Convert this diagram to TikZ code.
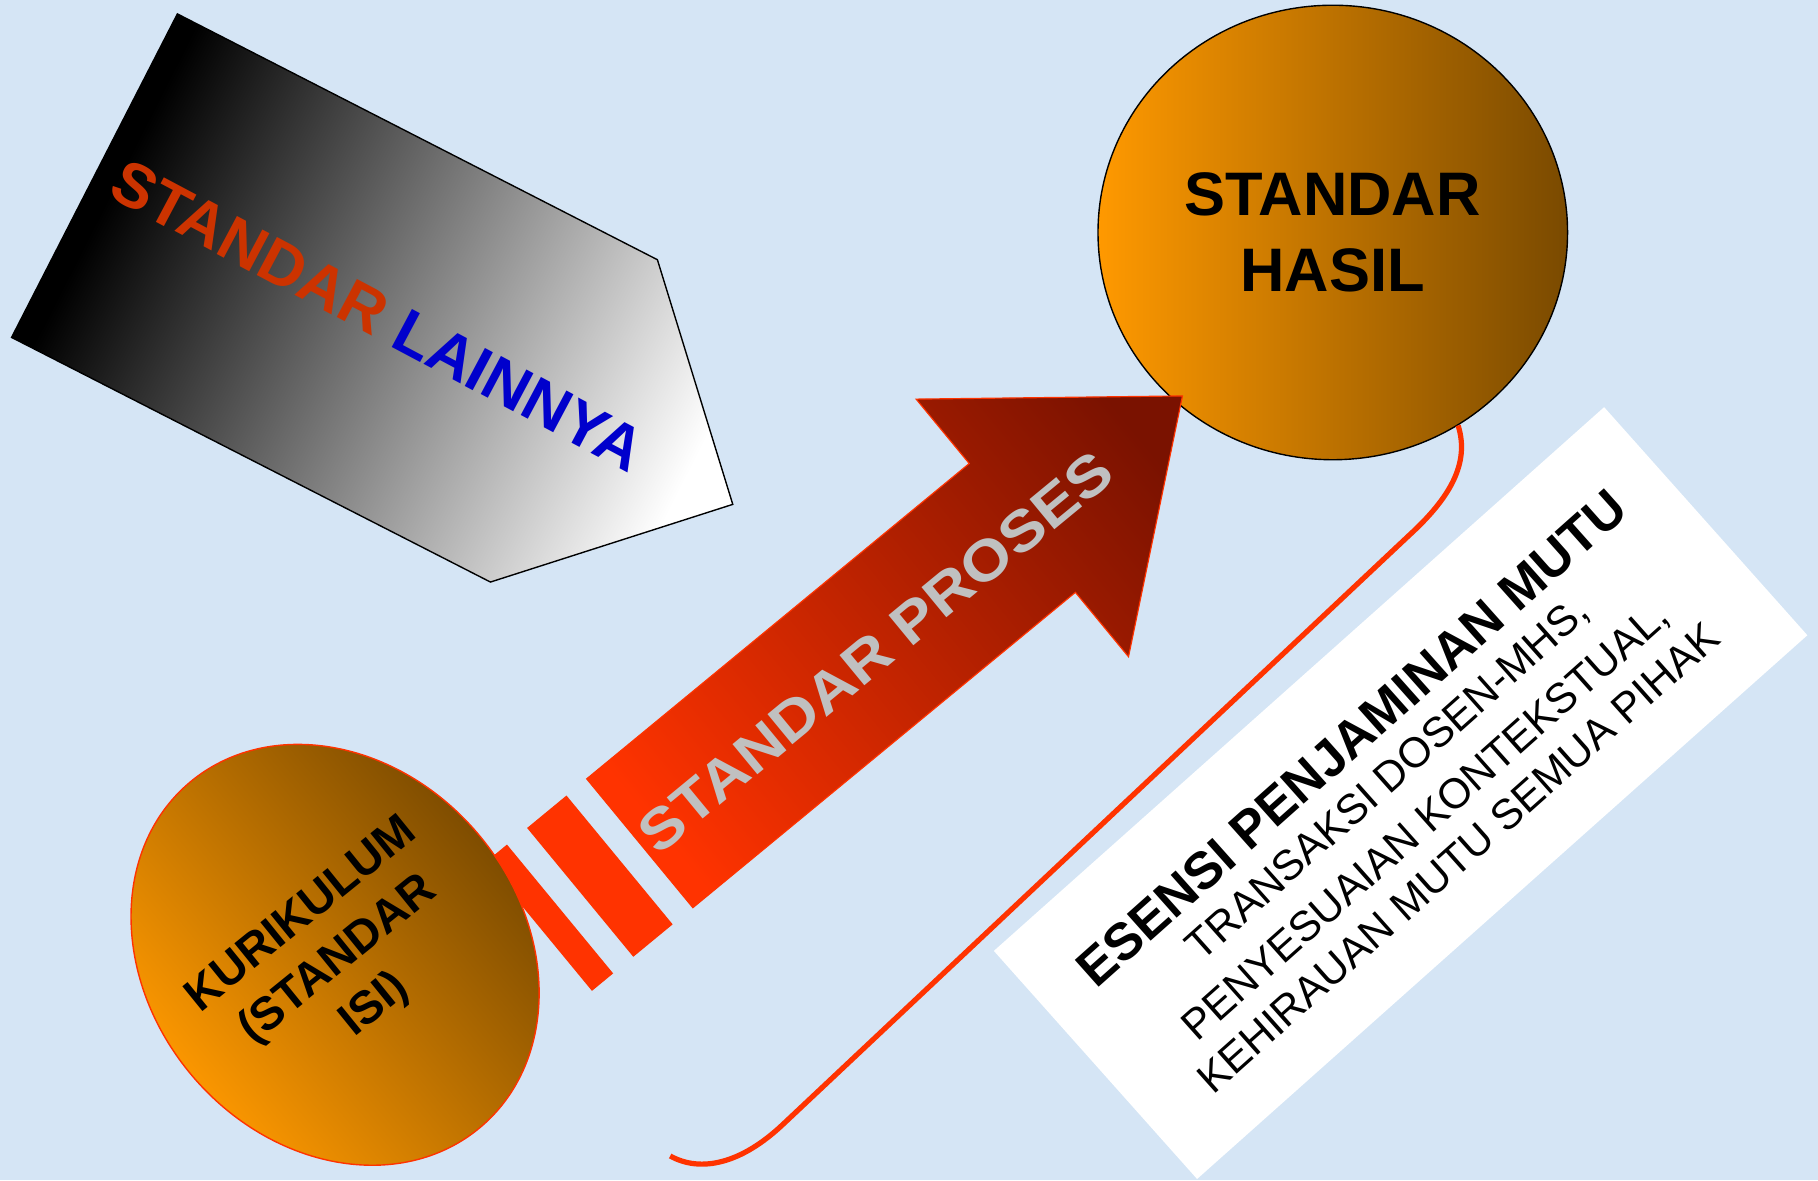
\documentclass[tikz,border=0pt]{standalone}
\usepackage{fontspec}
\setmainfont{Liberation Sans}
\usepackage{graphicx}
\usetikzlibrary{shapes.geometric,calc}
\definecolor{bgblue}{RGB}{213,229,245}
\definecolor{orA}{RGB}{255,153,0}
\definecolor{brA}{RGB}{122,74,0}
\definecolor{redA}{RGB}{255,51,0}
\definecolor{darkR}{RGB}{122,18,0}
\definecolor{grayT}{RGB}{192,192,192}
\definecolor{lainRed}{RGB}{204,51,0}
\definecolor{lainBlue}{RGB}{0,0,204}
\pgfdeclarehorizontalshading{shBW}{100bp}{color(0bp)=(black); color(29bp)=(black); color(77bp)=(white); color(100bp)=(white)}
\pgfdeclarehorizontalshading{shHasil}{100bp}{color(0bp)=(orA); color(25bp)=(orA); color(75bp)=(brA); color(100bp)=(brA)}
\pgfdeclarehorizontalshading{shKur}{100bp}{color(0bp)=(orA); color(28bp)=(orA); color(72bp)=(brA); color(100bp)=(brA)}
\pgfdeclarehorizontalshading{shArrow}{100bp}{color(0bp)=(redA); color(24bp)=(redA); color(80bp)=(darkR); color(100bp)=(darkR)}
\begin{document}
\begin{tikzpicture}[x=1pt,y=-1pt,
  conn/.style={draw=redA, line width=4.5pt},
  hasilfont/.style={font=\fontsize{53}{66}\selectfont\bfseries},
  kurfont/.style={font=\fontsize{40}{50}\selectfont\bfseries},
  esbold/.style={font=\fontsize{45}{50}\selectfont\bfseries},
  esreg/.style={font=\fontsize{36.5}{44}\selectfont},
  barstyle/.style={fill=redA},
]
\useasboundingbox (0,0) rectangle (1568,1018);
\fill[bgblue] (0,0) rectangle (1568,1018);

% --- STANDAR LAINNYA pentagon
\coordinate (p1) at (153,12);
\coordinate (p2) at (567,224);
\coordinate (p3) at (632,435);
\coordinate (p4) at (423,502);
\coordinate (p5) at (10,291);
\shadedraw[draw=black, line width=1.2pt, shading=shBW, shading angle=-27]
  (p1) -- (p2) -- (p3) -- (p4) -- (p5) -- cycle;
\node[rotate=-28, font=\fontsize{54}{60}\selectfont\bfseries, inner sep=0pt] (lainnya) at (326,272)
  {\textcolor{lainRed}{STANDAR} \textcolor{lainBlue}{LAINNYA}};

% --- STANDAR HASIL
\node[ellipse, draw=black, line width=1.2pt, shade, shading=shHasil, shading angle=0,
  minimum width=405pt, minimum height=392pt, inner sep=0pt, align=center, hasilfont, text=black]
  (hasil) at (1149.5,200.5) {STANDAR\\HASIL};

% --- ESENSI box
\node[fill=white, rotate=41.7, minimum width=705pt, minimum height=263.5pt, inner sep=0pt]
  (esensi) at (1208,684) {};
\begin{scope}[shift={(esensi.center)}, rotate=41.7, transform shape]
  \node[anchor=base, esbold, inner sep=0pt] (es1) at (0,-48) {ESENSI PENJAMINAN MUTU};
  \node[anchor=base, esreg, inner sep=0pt] (es2) at (0,-5) {TRANSAKSI DOSEN-MHS,};
  \node[anchor=base, esreg, inner sep=0pt] (es3) at (0,44) {PENYESUAIAN KONTEKSTUAL,};
  \node[anchor=base, esreg, inner sep=0pt] (es4) at (0,87) {KEHIRAUAN MUTU SEMUA PIHAK};
\end{scope}

% --- connector
\coordinate (hookend) at (578,997);
\draw[conn] (hasil.-57) .. controls (1268,400) and (1250,430) .. (1215,462)
  -- (675,970) .. controls (640,1003) and (605,1012) .. (hookend);

% --- bars
\begin{scope}[shift={(551.8,727.3)}, rotate=39.5]
  \fill[barstyle] (-112.8,-72) rectangle (-89.1,72);
  \fill[barstyle] (-66.6,-72) rectangle (-22.6,72);
\end{scope}

% --- KURIKULUM ellipse
\node[ellipse, rotate=-49.8, draw=redA, line width=1.2pt, shade, shading=shKur, shading angle=40,
  minimum width=389pt, minimum height=323pt, inner sep=0pt] (kur) at (289,823.5) {};
\begin{scope}[shift={(267,797.5)}, rotate=39, transform shape]
  \node[anchor=base, kurfont, inner sep=0pt] (kur1) at (0,0) {KURIKULUM};
  \node[anchor=base, kurfont, inner sep=0pt] (kur2) at (0,50) {(STANDAR};
  \node[anchor=base, kurfont, inner sep=0pt] (kur3) at (0,100) {ISI)};
\end{scope}

% --- STANDAR PROSES arrow
\begin{scope}[shift={(551.8,727.3)}, rotate=39.5]
  \shadedraw[draw=redA, line width=1pt, shading=shArrow, shading angle=39.5]
    (0,-72) -- (427.6,-72) -- (427.6,-144) -- (606.6,0) -- (427.6,144) -- (427.6,72) -- (0,72) -- cycle;
  \node[transform shape, font=\fontsize{49}{56}\selectfont\bfseries, text=grayT, inner sep=0pt]
    (proses) at (262,2) {\scalebox{1.13}[1]{STANDAR PROSES}};
\end{scope}
\end{tikzpicture}
\end{document}
